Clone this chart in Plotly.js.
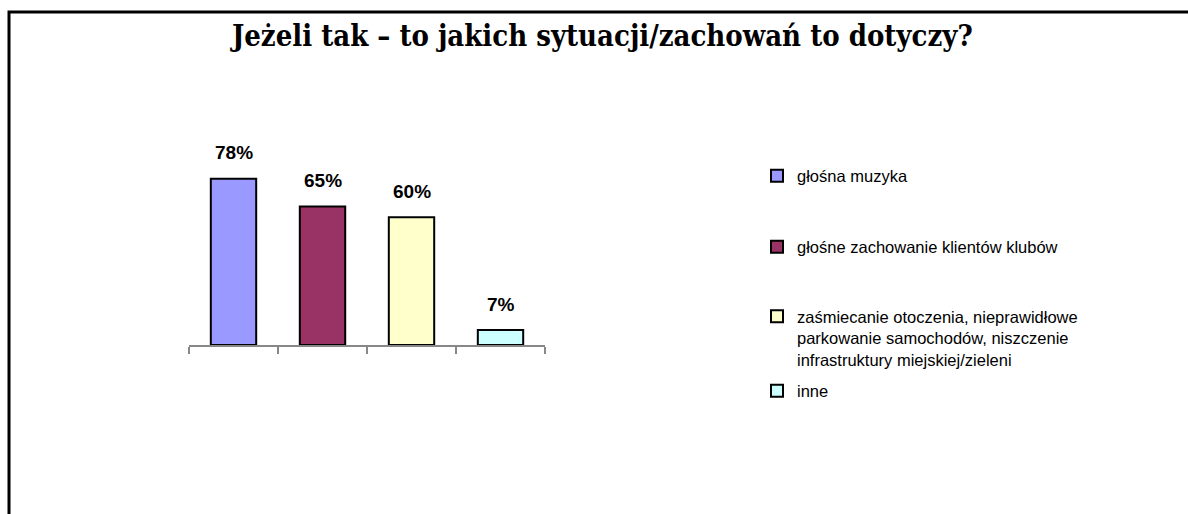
<!DOCTYPE html>
<html>
<head>
<meta charset="utf-8">
<script src="https://cdn.plot.ly/plotly-3.0.1.min.js"></script>
<style>html,body{margin:0;padding:0;background:#fff;}#chart{width:1188px;height:514px;}</style>
</head>
<body>
<div id="chart"></div>
<script>
// ---- data ----
const titleText = "Jeżeli tak – to jakich sytuacji/zachowań to dotyczy?";
const categories = [
  "głośna muzyka",
  "głośne zachowanie klientów klubów",
  "zaśmiecanie otoczenia, nieprawidłowe<br>parkowanie samochodów, niszczenie<br>infrastruktury miejskiej/zieleni",
  "inne"
];
const values = [78, 65, 60, 7];
const valueLabels = ["78%", "65%", "60%", "7%"];
const barColors = ["#9999ff", "#993366", "#ffffcc", "#ccffff"];
const legendNames = ["legend", "legend2", "legend3", "legend4"];

// ---- traces ----
const traces = categories.map((c, i) => ({
  type: "bar",
  x: [c],
  y: [values[i]],
  name: c,
  legend: legendNames[i],
  marker: { color: barColors[i], line: { color: "#000", width: 2 } },
  hoverinfo: "skip"
}));

const annotations = categories.map((c, i) => ({
  x: c, y: values[i], xref: "x", yref: "y",
  text: "<b>" + valueLabels[i] + "</b>",
  showarrow: false, yanchor: "middle", yshift: 26,
  font: { family: "Liberation Sans, Arial, sans-serif", size: 19, color: "#000" }
}));

const layout = {
  width: 1188, height: 514,
  paper_bgcolor: "#fff", plot_bgcolor: "#fff",
  margin: { l: 189, r: 643, t: 132, b: 169 },
  font: { family: "Liberation Sans, Arial, sans-serif", size: 16, color: "#000" },
  title: {
    text: "<b>" + titleText + "</b>",
    x: 0.507, xref: "container", xanchor: "center",
    y: 0.93, yref: "container", yanchor: "middle",
    font: { family: "DejaVu Serif Condensed, DejaVu Serif, serif", size: 29, color: "#000" }
  },
  barmode: "overlay",
  bargap: 0.49,
  xaxis: {
    type: "category",
    showticklabels: false,
    ticks: "outside", tickson: "boundaries", ticklen: 7, tickcolor: "#888", tickwidth: 1.5,
    showline: true, linecolor: "#888", linewidth: 1.5,
    showgrid: false, zeroline: false, fixedrange: true
  },
  yaxis: {
    range: [0, 100], visible: false, showgrid: false, zeroline: false, fixedrange: true
  },
  annotations: annotations,
  shapes: [{
    type: "path", xref: "paper", yref: "paper",
    path: "M -0.5056 -0.8 L -0.5056 1.5634 L 2.81 1.5634",
    line: { color: "#000", width: 3 }
  }],
  showlegend: true
};

const legendY = [1 - 176 / 514, 1 - 247 / 514, 1 - 299 / 514, 1 - 391 / 514];
legendNames.forEach((ln, i) => {
  layout[ln] = {
    x: 757 / 1188, xref: "container", xanchor: "left",
    y: legendY[i], yref: "container", yanchor: i === 2 ? "top" : "middle",
    valign: "top",
    bgcolor: "rgba(0,0,0,0)", borderwidth: 0,
    font: { family: "Liberation Sans, Arial, sans-serif", size: 16.5, color: "#000" },
    itemclick: false, itemdoubleclick: false
  };
});

Plotly.newPlot("chart", traces, layout, { staticPlot: true, displayModeBar: false });
</script>
</body>
</html>
